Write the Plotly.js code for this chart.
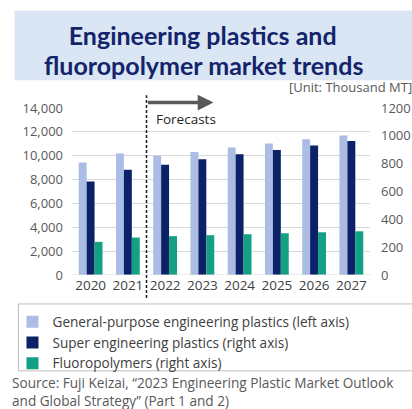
<!DOCTYPE html>
<html>
<head>
<meta charset="utf-8">
<script src="https://cdn.plot.ly/plotly-3.0.1.min.js"></script>
<style>html,body{margin:0;padding:0;background:#fff;}#chart{width:412px;height:409px;}</style>
</head>
<body>
<div id="chart"></div>
<script>
// ---- data ----
const years = ["2020","2021","2022","2023","2024","2025","2026","2027"];
const generalPurpose = [9440, 10190, 10000, 10310, 10690, 11030, 11390, 11690]; // left axis
const superEng = [671, 757, 793, 831, 867, 898, 931, 962];                      // right axis
const fluoro = [238, 269, 279, 286, 293, 300, 307, 314];                         // right axis
const leftTicks = [0, 2000, 4000, 6000, 8000, 10000, 12000, 14000];
const rightTicks = [0, 200, 400, 600, 800, 1000, 1200];
const seriesNames = [
  "General-purpose engineering plastics (left axis)",
  "Super engineering plastics (right axis)",
  "Fluoropolymers (right axis)"
];
const titleLines = ["Engineering plastics and", "fluoropolymer market trends"];
const sourceLines = [
  "Source: Fuji Keizai, \u201c2023 Engineering Plastic Market Outlook",
  "and Global Strategy\u201d (Part 1 and 2)"
];

// ---- layout helpers (pixel geometry) ----
const W = 412, H = 409;
const M = {l: 70, r: 41.5, t: 107.7, b: 134};
const pw = W - M.l - M.r, ph = H - M.t - M.b;
const px = x => (x - M.l) / pw;
const py = y => (H - M.b - y) / ph;

const FONT = "Open Sans, Noto Sans, sans-serif";
const TFONT = {family: "Lato, Open Sans, sans-serif", size: 25, color: "#13246a"};
const barW = 0.213;

const traces = [
  {type: "bar", name: seriesNames[0], x: years, y: generalPurpose, yaxis: "y",
   width: barW, offset: -0.32, marker: {color: "#abbde4"}},
  {type: "bar", name: seriesNames[1], x: years, y: superEng, yaxis: "y2",
   width: barW, offset: -0.107, marker: {color: "#0b2168"}},
  {type: "bar", name: seriesNames[2], x: years, y: fluoro, yaxis: "y2",
   width: barW, offset: 0.106, marker: {color: "#13a083"}}
];

const layout = {
  width: W, height: H,
  margin: M,
  paper_bgcolor: "#fff", plot_bgcolor: "rgba(0,0,0,0)",
  font: {family: FONT, size: 13, color: "#595959"},
  title: {
    text: "<b>" + titleLines[0] + "</b>",
    xref: "container", yref: "container",
    x: 0.492, xanchor: "center",
    y: 1 - 36.5 / H, yanchor: "middle",
    font: TFONT
  },
  barmode: "overlay",
  showlegend: true,
  legend: {
    x: px(10), y: py(306.5), xanchor: "left", yanchor: "top",
    bgcolor: "rgba(0,0,0,0)", borderwidth: 0,
    font: {family: FONT, size: 13.6, color: "#404040"},
    tracegroupgap: 0, traceorder: "normal"
  },
  xaxis: {
    type: "category", range: [-0.5, 7.5],
    showgrid: false, zeroline: false, showline: false,
    ticks: "", tickfont: {family: FONT, size: 13.5, color: "#404040"},
    fixedrange: true
  },
  yaxis: {
    range: [0, 14000], tickvals: leftTicks, tickformat: ",d",
    showgrid: true, gridcolor: "#d9d9d9", gridwidth: 1,
    zeroline: false, showline: false, ticks: "",
    ticklabelstandoff: 8,
    tickfont: {family: FONT, size: 13, color: "#595959"}
  },
  yaxis2: {
    range: [0, 1200], tickvals: rightTicks, tickformat: "d",
    overlaying: "y", side: "right",
    showgrid: false, zeroline: false, showline: false, ticks: "",
    ticklabelstandoff: 10,
    tickfont: {family: FONT, size: 13, color: "#595959"}
  },
  shapes: [
    // title banner
    {type: "rect", xref: "paper", yref: "paper", layer: "below",
     x0: px(12), x1: px(420), y0: py(10), y1: py(80),
     fillcolor: "#dbe6f4", line: {width: 0}},
    // baseline
    {type: "line", xref: "paper", yref: "y", x0: 0, x1: 1, y0: 0, y1: 0,
     line: {color: "#d9d9d9", width: 1}},
    // forecast divider
    {type: "line", xref: "x", yref: "paper", x0: 1.5, x1: 1.5, y0: py(298), y1: py(95),
     line: {color: "#1a1a1a", width: 1.5, dash: "3px,2px"}},
    // legend box
    {type: "rect", xref: "paper", yref: "paper",
     x0: px(16), x1: px(430), y0: py(371), y1: py(304),
     fillcolor: "rgba(0,0,0,0)", line: {color: "#bfbfbf", width: 1}}
  ],
  annotations: [
    {xref: "paper", yref: "paper", x: 0.492 * W / pw - M.l / pw, y: py(64.5),
     xanchor: "center", yanchor: "middle", showarrow: false,
     text: "<b>" + titleLines[1] + "</b>", font: TFONT},
    {xref: "paper", yref: "paper", x: px(287), y: py(87), xanchor: "left", yanchor: "middle",
     text: "[Unit: Thousand MT]", showarrow: false,
     font: {family: FONT, size: 13, color: "#595959"}},
    {xref: "x", yref: "paper", x: 1.5, y: py(118.5), xanchor: "left", yanchor: "middle",
     xshift: 7, text: "Forecasts", showarrow: false,
     font: {family: FONT, size: 13.5, color: "#262626"}},
    {xref: "x", yref: "paper", x: 1.5 + (212.5 - 145) / (pw / 8), y: py(102.3),
     axref: "x", ax: 1.5, ay: 0, text: "", showarrow: true,
     arrowhead: 2, arrowsize: 0.9, arrowwidth: 3.5, arrowcolor: "#595959"},
    {xref: "paper", yref: "paper", x: px(7), y: py(391.5), xanchor: "left", yanchor: "middle",
     align: "left", showarrow: false, text: sourceLines.join("<br>"),
     font: {family: FONT, size: 13.6, color: "#595959"}}
  ]
};

Plotly.newPlot("chart", traces, layout, {displayModeBar: false, staticPlot: true});
</script>
</body>
</html>
